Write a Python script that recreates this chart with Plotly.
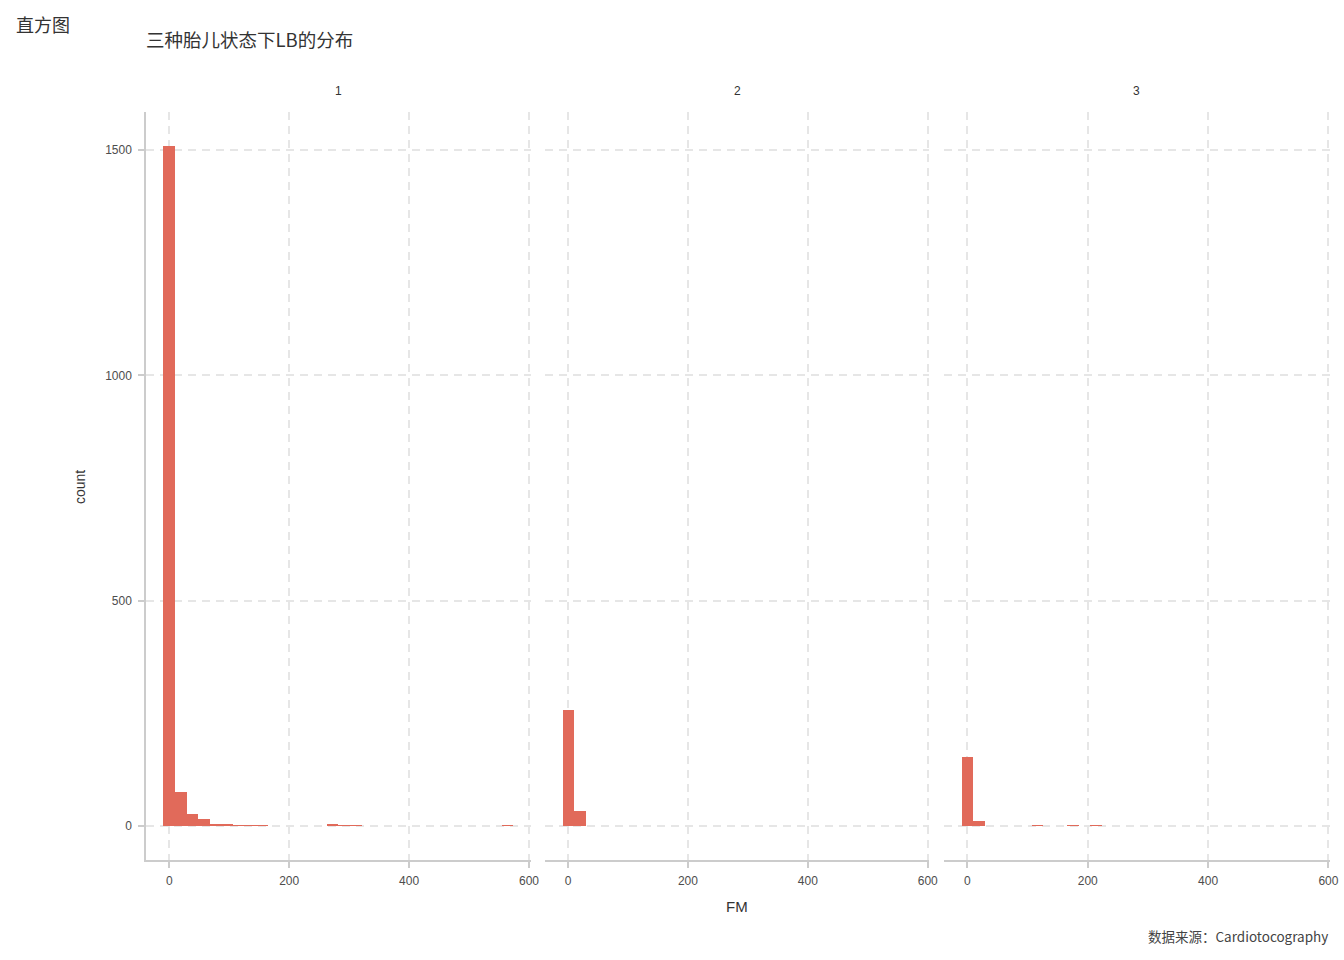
import plotly.graph_objects as go
from plotly.subplots import make_subplots

# ---- data (FM histogram per fetal state, 30 bins over 0..564) ----
binwidth = 564 / 29
panels = ["1", "2", "3"]

p1_centers = [0, 19.45, 38.9, 58.34, 77.79, 97.24, 116.69, 136.14, 155.59, 272.28, 291.72, 311.17, 564]
p1_counts = [1509, 75, 27, 15, 5, 5, 2, 2, 2, 5, 1, 1, 2]

p2_centers = [0, 19.45]
p2_counts = [257, 34]

p3_centers = [0, 19.45, 116.69, 175.03, 213.93]
p3_counts = [152, 12, 1, 1, 1]

x_ticks = [0, 200, 400, 600]
y_ticks = [0, 500, 1000, 1500]

bar_color = "#E16A5A"
grid_color = "#E6E6E6"
axis_color = "#CCCCCC"
text_color = "#4D4D4D"

fig = make_subplots(rows=1, cols=3, shared_yaxes=True, horizontal_spacing=0.0119)

for i, (cx, cy) in enumerate([(p1_centers, p1_counts), (p2_centers, p2_counts), (p3_centers, p3_counts)]):
    fig.add_trace(
        go.Bar(x=cx, y=cy, width=binwidth, marker=dict(color=bar_color, line=dict(width=0)),
               showlegend=False, hoverinfo="x+y"),
        row=1, col=i + 1,
    )

W, H = 1344, 960
L, R, T, B = 146, 14, 112, 100
pw = W - L - R
ph = H - T - B

doms = [[0, 0.3248], [0.3367, 0.6616], [0.6740, 1.0]]
for i in range(3):
    ax = "xaxis" if i == 0 else f"xaxis{i+1}"
    fig.layout[ax].update(
        domain=doms[i], range=[-38.9, 602.6], tickvals=x_ticks, automargin=False,
        showgrid=True, gridcolor=grid_color, griddash="8px,6px", gridwidth=1.5,
        zeroline=False, showline=True, linecolor=axis_color, linewidth=1.5,
        ticks="outside", ticklen=6, tickwidth=1.5, tickcolor=axis_color,
        ticklabelstandoff=3,
        tickfont=dict(family="Liberation Sans, Arial", size=12, color=text_color),
    )
    ay = "yaxis" if i == 0 else f"yaxis{i+1}"
    fig.layout[ay].update(
        range=[-75.5, 1584.5], tickvals=y_ticks, automargin=False,
        showgrid=True, gridcolor=grid_color, griddash="8px,6px", gridwidth=1.5,
        zeroline=False, showline=(i == 0), linecolor=axis_color, linewidth=1.5,
        ticks="outside" if i == 0 else "", ticklen=6, tickwidth=1.5, tickcolor=axis_color,
        showticklabels=(i == 0), ticklabelstandoff=4,
        tickfont=dict(family="Liberation Sans, Arial", size=12, color=text_color),
    )


def px_x(p):
    return (p - L) / pw


def px_y(p):
    return (H - B - p) / ph


annos = [
    dict(text="直方图", x=px_x(14), y=px_y(24), xanchor="left", yanchor="middle",
         font=dict(family="Noto Sans CJK SC", size=18, color="#333333")),
    dict(text="三种胎儿状态下LB的分布", x=px_x(144), y=px_y(39), xanchor="left", yanchor="middle",
         font=dict(family="Noto Sans CJK SC", size=18.5, color="#333333")),
    dict(text="FM", x=px_x(737), y=px_y(907), xanchor="center", yanchor="middle",
         font=dict(family="Liberation Sans, Arial", size=15, color="#333333")),
    dict(text="count", x=px_x(80), y=px_y(487), xanchor="center", yanchor="middle", textangle=-90,
         font=dict(family="Liberation Sans, Arial", size=14, color="#333333")),
    dict(text="数据来源：Cardiotocography", x=px_x(1330), y=px_y(936), xanchor="right", yanchor="middle",
         font=dict(family="Noto Sans CJK SC", size=13.5, color="#444444")),
]
for name, cxp in zip(panels, [338, 737, 1136]):
    annos.append(dict(text=name, x=px_x(cxp), y=px_y(91), xanchor="center", yanchor="middle",
                      font=dict(family="Liberation Sans, Arial", size=12, color="#333333")))
for a in annos:
    a.update(xref="paper", yref="paper", showarrow=False)

fig.update_layout(
    width=W, height=H, margin=dict(l=L, r=R, t=T, b=B, autoexpand=False),
    paper_bgcolor="white", plot_bgcolor="white",
    bargap=0, annotations=annos,
)

fig.write_html(
    "out.html",
    config={"displayModeBar": False},
    post_script="document.body.style.margin='0';document.body.style.overflow='hidden';",
)
